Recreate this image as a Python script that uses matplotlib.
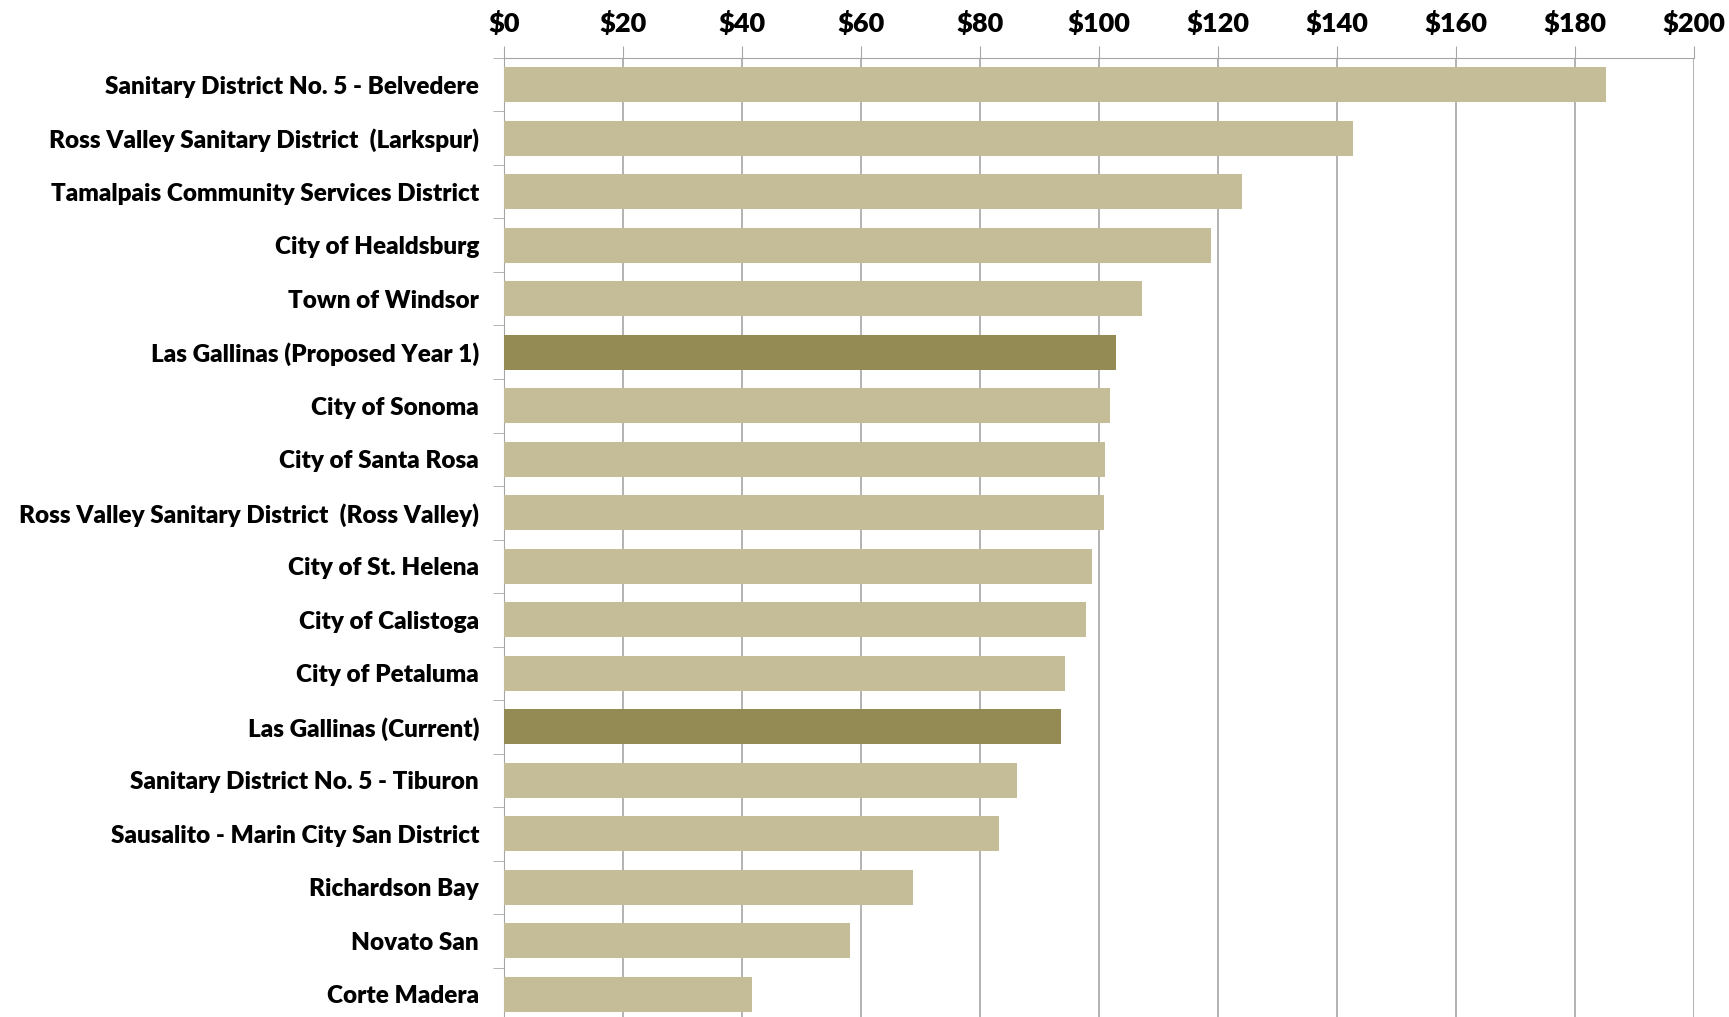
import matplotlib.pyplot as plt
import numpy as np
from matplotlib.ticker import FixedLocator, FuncFormatter

# Tarifas mensuales por distrito (de arriba a abajo)
districts = [
    "Sanitary District No. 5 - Belvedere",
    "Ross Valley Sanitary District  (Larkspur)",
    "Tamalpais Community Services District",
    "City of Healdsburg",
    "Town of Windsor",
    "Las Gallinas (Proposed Year 1)",
    "City of Sonoma",
    "City of Santa Rosa",
    "Ross Valley Sanitary District  (Ross Valley)",
    "City of St. Helena",
    "City of Calistoga",
    "City of Petaluma",
    "Las Gallinas (Current)",
    "Sanitary District No. 5 - Tiburon",
    "Sausalito - Marin City San District",
    "Richardson Bay",
    "Novato San",
    "Corte Madera",
]
rates = [185.2, 142.7, 124.0, 118.8, 107.3, 102.9, 101.9, 101.0, 100.8,
         98.8, 97.9, 94.3, 93.6, 86.2, 83.2, 68.8, 58.2, 41.7]
highlight = ["Las Gallinas (Proposed Year 1)", "Las Gallinas (Current)"]
x_ticks = [0, 20, 40, 60, 80, 100, 120, 140, 160, 180, 200]

light = "#C4BD97"
dark = "#948A54"
grid_c = "#A6A6A6"

plt.rcParams['font.family'] = ['Lato', 'DejaVu Sans']

fig = plt.figure(figsize=(17.29, 10.17), dpi=100)
ax = fig.add_axes([0.2915, -0.004, 0.6882, 0.947])

y = np.arange(len(districts))
colors = [dark if d in highlight else light for d in districts]
ax.barh(y, rates, height=0.66, color=colors, zorder=3)

ax.set_xlim(0, 200)
ax.set_ylim(len(districts) - 0.5, -0.5)

ax.xaxis.tick_top()
ax.set_xticks(x_ticks)
ax.xaxis.set_major_formatter(FuncFormatter(lambda v, p: f"${v:.0f}"))
ax.tick_params(axis='x', length=9, color=grid_c, pad=7, labelsize=19.5)
for lab in ax.get_xticklabels():
    lab.set_fontweight('heavy')
ax.grid(axis='x', color=grid_c, linewidth=1.2, zorder=0)

ax.set_yticks(y)
ax.set_yticklabels(districts, fontsize=17.5, fontweight='heavy')
ax.yaxis.set_minor_locator(FixedLocator(np.arange(-0.5, len(districts), 1)))
ax.tick_params(axis='y', which='major', length=0, pad=18)
ax.tick_params(axis='y', which='minor', length=8, color=grid_c)

for s in ['right', 'bottom']:
    ax.spines[s].set_visible(False)
ax.spines['top'].set_color(grid_c)
ax.spines['left'].set_color(grid_c)

plt.savefig("out.png", dpi=100)
